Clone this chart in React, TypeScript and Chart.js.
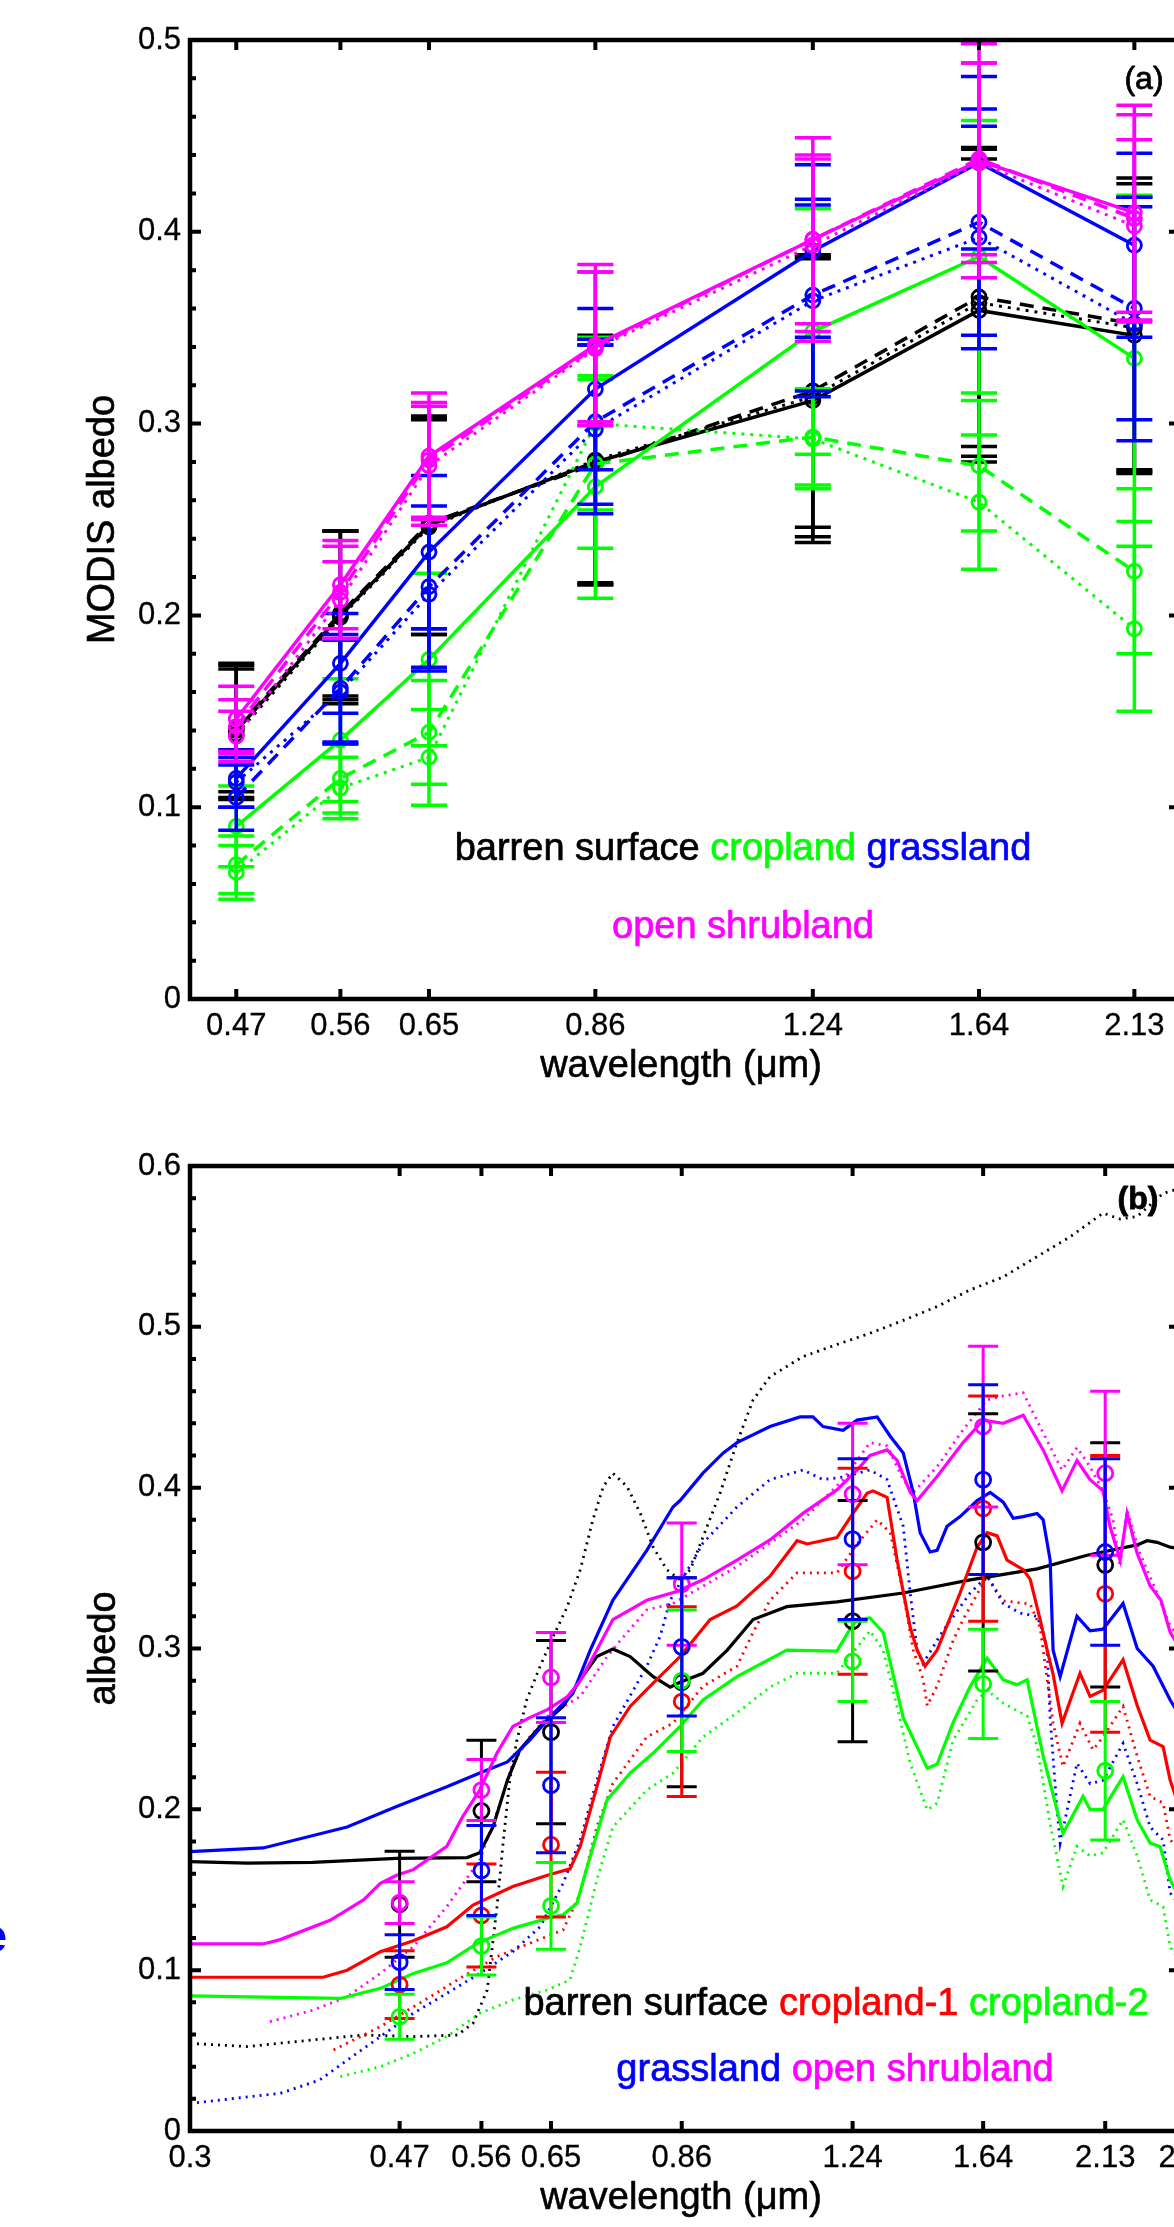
import React, { useEffect, useRef } from 'react';
import { Chart, registerables } from 'chart.js';

Chart.register(...registerables);

const FONT = '"Liberation Sans", Arial, Helvetica, sans-serif';
const C_BLACK = '#000000';
const C_RED = '#ff0000';
const C_GREEN = '#00ff00';
const C_BLUE = '#0000ff';
const C_MAGENTA = '#ff00ff';

// ---------------- MODIS bands ----------------
const BANDS = [0.47, 0.56, 0.65, 0.86, 1.24, 1.64, 2.13];
const BAND_LABELS = ['0.47', '0.56', '0.65', '0.86', '1.24', '1.64', '2.13'];

// ---------------- panel (a) axes ----------------
const A_X_MIN = 0.4348;
const A_X_MAX = 2.3;
const A_Y_TICKS = [0, 0.1, 0.2, 0.3, 0.4, 0.5];
const A_Y_LABELS = ['0', '0.1', '0.2', '0.3', '0.4', '0.5'];

// ---------------- panel (a) series (MODIS albedo +- error) ----------------
const A_BARREN_SOLID = [0.14, 0.2, 0.247, 0.28, 0.312, 0.359, 0.346];
const A_BARREN_SOLID_ERR = [0.035, 0.044, 0.057, 0.064, 0.074, 0.079, 0.072];
const A_BARREN_DASHED = [0.141, 0.201, 0.248, 0.279, 0.317, 0.366, 0.352];
const A_BARREN_DASHED_ERR = [0.033, 0.043, 0.055, 0.062, 0.071, 0.078, 0.076];
const A_BARREN_DOTTED = [0.138, 0.199, 0.246, 0.281, 0.314, 0.363, 0.35];
const A_BARREN_DOTTED_ERR = [0.034, 0.045, 0.056, 0.065, 0.073, 0.08, 0.075];

const A_CROP_SOLID = [0.09, 0.135, 0.177, 0.267, 0.348, 0.387, 0.334];
const A_CROP_SOLID_ERR = [0.021, 0.032, 0.045, 0.058, 0.064, 0.071, 0.085];
const A_CROP_DASHED = [0.07, 0.115, 0.139, 0.279, 0.293, 0.278, 0.223];
const A_CROP_DASHED_ERR = [0.015, 0.018, 0.027, 0.044, 0.025, 0.034, 0.043];
const A_CROP_DOTTED = [0.066, 0.11, 0.126, 0.3, 0.292, 0.259, 0.193];
const A_CROP_DOTTED_ERR = [0.014, 0.016, 0.025, 0.045, 0.026, 0.035, 0.043];

const A_GRASS_SOLID = [0.115, 0.175, 0.233, 0.318, 0.39, 0.436, 0.393];
const A_GRASS_SOLID_ERR = [0.015, 0.026, 0.04, 0.042, 0.045, 0.045, 0.048];
const A_GRASS_DASHED = [0.105, 0.162, 0.215, 0.301, 0.367, 0.405, 0.36];
const A_GRASS_DASHED_ERR = [0.017, 0.028, 0.042, 0.043, 0.05, 0.059, 0.058];
const A_GRASS_DOTTED = [0.113, 0.16, 0.211, 0.297, 0.364, 0.397, 0.352];
const A_GRASS_DOTTED_ERR = [0.013, 0.027, 0.04, 0.044, 0.05, 0.058, 0.061];

const A_SHRUB_SOLID = [0.146, 0.216, 0.283, 0.341, 0.396, 0.437, 0.41];
const A_SHRUB_SOLID_ERR = [0.017, 0.023, 0.033, 0.042, 0.053, 0.061, 0.056];
const A_SHRUB_DASHED = [0.142, 0.212, 0.281, 0.34, 0.396, 0.438, 0.407];
const A_SHRUB_DASHED_ERR = [0.014, 0.024, 0.03, 0.039, 0.044, 0.05, 0.054];
const A_SHRUB_DOTTED = [0.137, 0.208, 0.278, 0.339, 0.393, 0.436, 0.403];
const A_SHRUB_DOTTED_ERR = [0.013, 0.02, 0.031, 0.04, 0.045, 0.052, 0.045];

// ---------------- panel (b) axes ----------------
const B_X_MIN = 0.3;
const B_X_MAX = 2.5;
const B_X_TICKS = [0.3, 0.47, 0.56, 0.65, 0.86, 1.24, 1.64, 2.13, 2.5];
const B_X_LABELS = ['0.3', '0.47', '0.56', '0.65', '0.86', '1.24', '1.64', '2.13', '2.5'];
const B_Y_TICKS = [0, 0.1, 0.2, 0.3, 0.4, 0.5, 0.6];
const B_Y_LABELS = ['0', '0.1', '0.2', '0.3', '0.4', '0.5', '0.6'];

// ---------------- panel (b) spectra [wavelength um, albedo] ----------------
const B_BARREN_SOLID = [
  [0.3, 0.1675], [0.339, 0.1665], [0.39, 0.167], [0.467, 0.1695], [0.543, 0.17], [0.558, 0.173],
  [0.574, 0.189], [0.592, 0.218], [0.608, 0.237], [0.635, 0.2515], [0.667, 0.264], [0.692, 0.2805],
  [0.717, 0.295], [0.742, 0.2997], [0.77, 0.295], [0.809, 0.2825], [0.839, 0.276], [0.857, 0.279],
  [0.9, 0.2846], [0.948, 0.299], [1.002, 0.318], [1.077, 0.326], [1.199, 0.329], [1.382, 0.3345],
  [1.595, 0.3427], [1.841, 0.3495], [2.049, 0.358], [2.281, 0.3644], [2.33, 0.367], [2.38, 0.366],
  [2.448, 0.363], [2.5, 0.362],
];
const B_BARREN_DOTTED = [
  [0.3, 0.0545], [0.339, 0.0525], [0.39, 0.0566], [0.435, 0.0597], [0.484, 0.0587], [0.532, 0.0597],
  [0.55, 0.067], [0.567, 0.0877], [0.579, 0.1395], [0.587, 0.181], [0.595, 0.218], [0.604, 0.2425],
  [0.617, 0.268], [0.635, 0.289], [0.653, 0.3074], [0.673, 0.326], [0.692, 0.349], [0.711, 0.38],
  [0.727, 0.4007], [0.742, 0.409], [0.765, 0.4007], [0.787, 0.384], [0.809, 0.363], [0.833, 0.349],
  [0.857, 0.3427], [0.876, 0.349], [0.934, 0.397], [0.968, 0.428], [1.002, 0.4546], [1.039, 0.469],
  [1.115, 0.4815], [1.199, 0.489], [1.287, 0.496], [1.382, 0.504], [1.486, 0.5126], [1.595, 0.523],
  [1.712, 0.531], [1.841, 0.5437], [1.976, 0.556], [2.12, 0.5707], [2.199, 0.567], [2.281, 0.5686],
  [2.411, 0.583], [2.5, 0.586],
];
const B_CROP1_SOLID = [
  [0.3, 0.0956], [0.399, 0.0956], [0.42, 0.1], [0.451, 0.1115], [0.484, 0.1183], [0.52, 0.127],
  [0.55, 0.1405], [0.599, 0.152], [0.645, 0.159], [0.677, 0.163], [0.692, 0.177], [0.717, 0.214],
  [0.738, 0.245], [0.77, 0.264], [0.809, 0.2785], [0.857, 0.295], [0.914, 0.318], [0.968, 0.3265],
  [1.039, 0.345], [1.101, 0.367], [1.125, 0.365], [1.199, 0.369], [1.241, 0.384], [1.279, 0.3965],
  [1.295, 0.398], [1.335, 0.394], [1.364, 0.355], [1.403, 0.313], [1.424, 0.299], [1.448, 0.289],
  [1.486, 0.299], [1.561, 0.3345], [1.619, 0.363], [1.654, 0.372], [1.69, 0.37], [1.726, 0.355],
  [1.787, 0.349], [1.814, 0.343], [1.853, 0.318], [1.881, 0.299], [1.905, 0.284], [1.942, 0.2535],
  [2.018, 0.2846], [2.062, 0.2702], [2.12, 0.274], [2.213, 0.293], [2.281, 0.2645], [2.345, 0.243],
  [2.411, 0.239], [2.448, 0.218], [2.5, 0.2],
];
const B_CROP1_DOTTED = [
  [0.408, 0.0504], [0.451, 0.0649], [0.502, 0.0835], [0.538, 0.096], [0.579, 0.1084], [0.621, 0.1167],
  [0.667, 0.125], [0.692, 0.148], [0.717, 0.189], [0.742, 0.216], [0.798, 0.245], [0.844, 0.2535],
  [0.9, 0.2765], [0.968, 0.289], [1.002, 0.31], [1.039, 0.33], [1.101, 0.347], [1.199, 0.347],
  [1.252, 0.365], [1.307, 0.38], [1.344, 0.372], [1.382, 0.3345], [1.412, 0.299], [1.442, 0.281],
  [1.455, 0.2645], [1.486, 0.2766], [1.538, 0.305], [1.571, 0.318], [1.654, 0.345], [1.712, 0.3297],
  [1.814, 0.3276], [1.853, 0.313], [1.865, 0.299], [1.905, 0.2535], [1.946, 0.2266], [2.018, 0.2535],
  [2.075, 0.237], [2.12, 0.245], [2.213, 0.264], [2.281, 0.233], [2.345, 0.208], [2.411, 0.204],
  [2.448, 0.181], [2.5, 0.175],
];
const B_CROP2_SOLID = [
  [0.3, 0.084], [0.414, 0.0824], [0.451, 0.0887], [0.484, 0.098], [0.52, 0.1046], [0.555, 0.1167],
  [0.599, 0.126], [0.645, 0.1323], [0.667, 0.1344], [0.687, 0.1416], [0.707, 0.171], [0.733, 0.206],
  [0.77, 0.2225], [0.809, 0.235], [0.857, 0.2515], [0.9, 0.268], [0.968, 0.2825], [1.077, 0.299],
  [1.199, 0.2984], [1.233, 0.312], [1.252, 0.318], [1.287, 0.319], [1.324, 0.31], [1.382, 0.257],
  [1.455, 0.2255], [1.486, 0.228], [1.538, 0.254], [1.595, 0.2763], [1.654, 0.294], [1.712, 0.2805],
  [1.764, 0.2775], [1.802, 0.2805], [1.865, 0.233], [1.946, 0.185], [2.031, 0.208], [2.062, 0.2],
  [2.12, 0.2], [2.213, 0.2203], [2.281, 0.1934], [2.345, 0.179], [2.396, 0.1767], [2.448, 0.156],
  [2.5, 0.145],
];
const B_CROP2_DOTTED = [
  [0.414, 0.0338], [0.451, 0.04], [0.484, 0.0483], [0.52, 0.0587], [0.558, 0.0732], [0.599, 0.0815],
  [0.645, 0.0877], [0.677, 0.094], [0.692, 0.1146], [0.717, 0.156], [0.742, 0.189], [0.798, 0.212],
  [0.844, 0.2225], [0.9, 0.245], [0.968, 0.26], [1.039, 0.276], [1.101, 0.2846], [1.199, 0.2846],
  [1.287, 0.311], [1.324, 0.299], [1.364, 0.2636], [1.403, 0.2286], [1.455, 0.1996], [1.486, 0.2038],
  [1.538, 0.243], [1.619, 0.268], [1.654, 0.274], [1.712, 0.266], [1.802, 0.258], [1.841, 0.2391],
  [1.893, 0.191], [1.946, 0.152], [2.005, 0.177], [2.062, 0.171], [2.12, 0.173], [2.213, 0.1935],
  [2.281, 0.171], [2.345, 0.1437], [2.411, 0.1395], [2.448, 0.1146], [2.5, 0.105],
];
const B_GRASS_SOLID = [
  [0.3, 0.1737], [0.351, 0.176], [0.42, 0.189], [0.467, 0.2017], [0.52, 0.214], [0.558, 0.2226],
  [0.592, 0.2295], [0.621, 0.243], [0.645, 0.2556], [0.681, 0.272], [0.707, 0.299], [0.742, 0.33],
  [0.798, 0.361], [0.844, 0.388], [0.857, 0.392], [0.9, 0.409], [0.94, 0.4216], [0.968, 0.428],
  [1.039, 0.438], [1.108, 0.444], [1.139, 0.444], [1.164, 0.438], [1.215, 0.4357], [1.252, 0.442],
  [1.307, 0.444], [1.344, 0.432], [1.382, 0.4216], [1.412, 0.397], [1.433, 0.372], [1.464, 0.36],
  [1.486, 0.361], [1.518, 0.376], [1.561, 0.382], [1.619, 0.392], [1.665, 0.397], [1.712, 0.391],
  [1.749, 0.381], [1.787, 0.382], [1.841, 0.384], [1.865, 0.38], [1.893, 0.355], [1.905, 0.299],
  [1.934, 0.2825], [1.976, 0.305], [2.005, 0.32], [2.062, 0.311], [2.12, 0.312], [2.213, 0.328],
  [2.281, 0.3], [2.36, 0.289], [2.448, 0.268], [2.5, 0.258],
];
const B_GRASS_DOTTED = [
  [0.3, 0.0172], [0.364, 0.0234], [0.396, 0.0317], [0.42, 0.044], [0.451, 0.0587], [0.484, 0.0732],
  [0.52, 0.0856], [0.558, 0.098], [0.599, 0.1115], [0.635, 0.127], [0.667, 0.154], [0.692, 0.181],
  [0.717, 0.218], [0.742, 0.2515], [0.798, 0.289], [0.821, 0.3074], [0.839, 0.33], [0.9, 0.3655],
  [0.968, 0.388], [1.039, 0.405], [1.115, 0.411], [1.164, 0.405], [1.215, 0.4066], [1.287, 0.411],
  [1.335, 0.405], [1.382, 0.376], [1.403, 0.334], [1.424, 0.299], [1.442, 0.2907], [1.486, 0.305],
  [1.505, 0.311], [1.595, 0.3345], [1.654, 0.345], [1.712, 0.328], [1.775, 0.322], [1.841, 0.32],
  [1.865, 0.31], [1.881, 0.299], [1.893, 0.257], [1.921, 0.2], [1.934, 0.179], [2.005, 0.2287],
  [2.062, 0.216], [2.12, 0.218], [2.213, 0.241], [2.281, 0.216], [2.345, 0.189], [2.411, 0.181],
  [2.448, 0.148], [2.5, 0.14],
];
const B_SHRUB_SOLID = [
  [0.3, 0.1163], [0.351, 0.1163], [0.364, 0.119], [0.405, 0.131], [0.435, 0.1437], [0.451, 0.154],
  [0.467, 0.159], [0.484, 0.1625], [0.52, 0.177], [0.538, 0.1955], [0.558, 0.212], [0.579, 0.235],
  [0.599, 0.2515], [0.621, 0.257], [0.645, 0.262], [0.673, 0.27], [0.692, 0.28], [0.717, 0.299],
  [0.742, 0.318], [0.798, 0.33], [0.851, 0.3354], [0.9, 0.3427], [0.968, 0.355], [1.039, 0.3675],
  [1.115, 0.384], [1.199, 0.3986], [1.252, 0.411], [1.287, 0.42], [1.335, 0.4235], [1.364, 0.417],
  [1.403, 0.397], [1.424, 0.392], [1.486, 0.407], [1.571, 0.428], [1.64, 0.442], [1.712, 0.44],
  [1.787, 0.445], [1.865, 0.4235], [1.942, 0.398], [2.005, 0.417], [2.062, 0.405], [2.12, 0.398],
  [2.152, 0.376], [2.199, 0.355], [2.232, 0.384], [2.281, 0.359], [2.345, 0.339], [2.4, 0.33],
  [2.448, 0.31], [2.5, 0.3],
];
const B_SHRUB_DOTTED = [
  [0.356, 0.068], [0.39, 0.075], [0.42, 0.0835], [0.451, 0.098], [0.484, 0.1146], [0.52, 0.1395],
  [0.558, 0.1685], [0.583, 0.204], [0.599, 0.2286], [0.621, 0.245], [0.645, 0.2578], [0.692, 0.2702],
  [0.733, 0.295], [0.754, 0.305], [0.798, 0.324], [0.844, 0.328], [0.968, 0.351], [1.115, 0.38],
  [1.215, 0.405], [1.287, 0.428], [1.335, 0.426], [1.382, 0.405], [1.412, 0.397], [1.486, 0.413],
  [1.571, 0.436], [1.654, 0.4546], [1.712, 0.457], [1.787, 0.459], [1.865, 0.434], [1.942, 0.411],
  [2.005, 0.425], [2.062, 0.413], [2.12, 0.398], [2.166, 0.38], [2.199, 0.351], [2.232, 0.386],
  [2.295, 0.359], [2.38, 0.3345], [2.448, 0.314], [2.5, 0.305],
];

// ---------------- panel (b) MODIS points +- error ----------------
const B_PT_BARREN = [0.141, 0.199, 0.248, 0.279, 0.317, 0.366, 0.352];
const B_PT_BARREN_ERR = [0.033, 0.044, 0.057, 0.065, 0.075, 0.08, 0.076];
const B_PT_CROP1 = [0.091, 0.134, 0.178, 0.267, 0.348, 0.387, 0.334];
const B_PT_CROP1_ERR = [0.021, 0.032, 0.045, 0.059, 0.064, 0.07, 0.086];
const B_PT_CROP2 = [0.071, 0.115, 0.14, 0.28, 0.292, 0.278, 0.224];
const B_PT_CROP2_ERR = [0.014, 0.018, 0.027, 0.044, 0.025, 0.034, 0.043];
const B_PT_SHRUB = [0.142, 0.212, 0.282, 0.34, 0.396, 0.438, 0.409];
const B_PT_SHRUB_ERR = [0.013, 0.019, 0.028, 0.038, 0.044, 0.05, 0.051];
const B_PT_GRASS = [0.105, 0.162, 0.215, 0.301, 0.368, 0.405, 0.36];
const B_PT_GRASS_ERR = [0.017, 0.028, 0.042, 0.043, 0.05, 0.059, 0.058];

// ---------------- helpers ----------------
function heavyText(ctx: any, text: string, x: number, y: number, weight: number) {
  ctx.fillText(text, x, y);
  if (weight > 0) {
    ctx.lineWidth = weight;
    ctx.strokeStyle = ctx.fillStyle;
    ctx.lineJoin = 'round';
    ctx.strokeText(text, x, y);
  }
}

function makeAxesPlugin(cfg: any) {
  return {
    id: 'matlabAxes',
    afterDraw(chart: any) {
      const ctx = chart.ctx;
      const a = chart.chartArea;
      const xs = chart.scales.x;
      const ys = chart.scales.y;
      ctx.save();
      ctx.setLineDash([]);
      ctx.strokeStyle = '#000';
      ctx.fillStyle = '#000';
      ctx.lineCap = 'butt';
      ctx.lineWidth = 4;
      ctx.beginPath();
      for (const v of cfg.xTicks) {
        const px = xs.getPixelForValue(v);
        ctx.moveTo(px, a.bottom);
        ctx.lineTo(px, a.bottom - 10);
        ctx.moveTo(px, a.top);
        ctx.lineTo(px, a.top + 10);
      }
      for (const v of cfg.yTicks) {
        const py = ys.getPixelForValue(v);
        ctx.moveTo(a.left, py);
        ctx.lineTo(a.left + 11, py);
        ctx.moveTo(a.right, py);
        ctx.lineTo(a.right - 11, py);
      }
      const yMax = cfg.yTicks[cfg.yTicks.length - 1];
      const n = Math.round(yMax / cfg.minorStep);
      for (let k = 1; k < n; k++) {
        const py = ys.getPixelForValue(k * cfg.minorStep);
        ctx.moveTo(a.left, py);
        ctx.lineTo(a.left + 6, py);
        ctx.moveTo(a.right, py);
        ctx.lineTo(a.right - 6, py);
      }
      ctx.stroke();
      ctx.lineWidth = 4.5;
      ctx.strokeRect(a.left, a.top, a.right - a.left, a.bottom - a.top);

      ctx.font = `${cfg.tickSize}px ${FONT}`;
      ctx.textBaseline = 'middle';
      ctx.textAlign = 'right';
      cfg.yTicks.forEach((v: number, i: number) => heavyText(ctx, cfg.yLabels[i], a.left - 9, ys.getPixelForValue(v), 0.3));
      ctx.textAlign = 'center';
      cfg.xTicks.forEach((v: number, i: number) => heavyText(ctx, cfg.xLabels[i], xs.getPixelForValue(v), a.bottom + 27, 0.3));

      ctx.font = `${cfg.titleSize}px ${FONT}`;
      ctx.textBaseline = 'alphabetic';
      ctx.textAlign = 'center';
      heavyText(ctx, cfg.xTitle, (a.left + a.right) / 2 - 4, a.bottom + 78, 0.6);
      ctx.save();
      ctx.translate(cfg.yTitleX, (a.top + a.bottom) / 2);
      ctx.rotate(-Math.PI / 2);
      heavyText(ctx, cfg.yTitle, 0, 0, 0.6);
      ctx.restore();

      ctx.font = `${cfg.noteSize}px ${FONT}`;
      ctx.textAlign = 'left';
      for (const line of cfg.notes) {
        const space = ctx.measureText(' ').width;
        const widths = line.parts.map((p: any) => ctx.measureText(p[0]).width);
        const total = widths.reduce((s: number, w: number) => s + w, 0) + space * (line.parts.length - 1);
        let x = line.cx - total / 2;
        line.parts.forEach((p: any, i: number) => {
          ctx.fillStyle = p[1];
          heavyText(ctx, p[0], x, line.y, 0.7);
          x += widths[i] + space;
        });
      }

      ctx.fillStyle = '#000';
      ctx.font = `${cfg.panel[3]} ${cfg.panelSize}px ${FONT}`;
      ctx.textAlign = 'center';
      ctx.textBaseline = 'middle';
      heavyText(ctx, cfg.panel[0], cfg.panel[1], cfg.panel[2], 0.8);

      if (cfg.extra) {
        for (const e of cfg.extra) {
          ctx.fillStyle = e.color;
          ctx.font = e.font;
          ctx.textAlign = 'right';
          ctx.textBaseline = 'alphabetic';
          ctx.fillText(e.text, e.x, e.y);
        }
      }
      ctx.restore();
    },
  };
}

function makeErrorBarPlugin(cap: number, width: number) {
  return {
    id: 'errorBars',
    afterDatasetDraw(chart: any, args: any) {
      const ds = chart.data.datasets[args.index];
      if (!ds.errors) return;
      const ctx = chart.ctx;
      const xs = chart.scales.x;
      const ys = chart.scales.y;
      ctx.save();
      ctx.setLineDash([]);
      ctx.strokeStyle = ds.borderColor;
      ctx.lineWidth = width;
      ctx.lineCap = 'butt';
      ds.data.forEach((p: any, j: number) => {
        const e = ds.errors[j];
        const px = xs.getPixelForValue(p.x);
        const top = ys.getPixelForValue(p.y + e);
        const bot = ys.getPixelForValue(p.y - e);
        ctx.beginPath();
        ctx.moveTo(px, top);
        ctx.lineTo(px, bot);
        ctx.moveTo(px - cap, top);
        ctx.lineTo(px + cap, top);
        ctx.moveTo(px - cap, bot);
        ctx.lineTo(px + cap, bot);
        ctx.stroke();
      });
      ctx.restore();
    },
  };
}

function dashFor(style: string, panel: string) {
  if (style === 'dashed') return [14, 9];
  if (style === 'dotted') return panel === 'a' ? [3, 6] : [2, 5];
  return [];
}

function buildA() {
  const defs: any[] = [
    [C_BLACK, 'solid', A_BARREN_SOLID, A_BARREN_SOLID_ERR],
    [C_BLACK, 'dashed', A_BARREN_DASHED, A_BARREN_DASHED_ERR],
    [C_BLACK, 'dotted', A_BARREN_DOTTED, A_BARREN_DOTTED_ERR],
    [C_GREEN, 'solid', A_CROP_SOLID, A_CROP_SOLID_ERR],
    [C_GREEN, 'dashed', A_CROP_DASHED, A_CROP_DASHED_ERR],
    [C_GREEN, 'dotted', A_CROP_DOTTED, A_CROP_DOTTED_ERR],
    [C_BLUE, 'solid', A_GRASS_SOLID, A_GRASS_SOLID_ERR],
    [C_BLUE, 'dashed', A_GRASS_DASHED, A_GRASS_DASHED_ERR],
    [C_BLUE, 'dotted', A_GRASS_DOTTED, A_GRASS_DOTTED_ERR],
    [C_MAGENTA, 'solid', A_SHRUB_SOLID, A_SHRUB_SOLID_ERR],
    [C_MAGENTA, 'dashed', A_SHRUB_DASHED, A_SHRUB_DASHED_ERR],
    [C_MAGENTA, 'dotted', A_SHRUB_DOTTED, A_SHRUB_DOTTED_ERR],
  ];
  const N = defs.length;
  const datasets = defs.map((d, i) => ({
    data: BANDS.map((x, j) => ({ x, y: d[2][j] })),
    errors: d[3],
    borderColor: d[0],
    borderWidth: d[1] === 'dotted' ? 3 : 3.5,
    borderDash: dashFor(d[1], 'a'),
    pointRadius: 7,
    pointBorderWidth: 2.8,
    pointBackgroundColor: 'rgba(0,0,0,0)',
    pointBorderColor: d[0],
    pointStyle: 'circle',
    tension: 0,
    order: N - i,
  }));
  const axesCfg = {
    xTicks: BANDS, xLabels: BAND_LABELS, yTicks: A_Y_TICKS, yLabels: A_Y_LABELS, minorStep: 0.02,
    tickSize: 31, titleSize: 38, noteSize: 38, panelSize: 32,
    xTitle: 'wavelength (\u03bcm)', yTitle: 'MODIS albedo', yTitleX: 114,
    notes: [
      { cx: 743, y: 860, parts: [['barren surface', C_BLACK], ['cropland', C_GREEN], ['grassland', C_BLUE]] },
      { cx: 743, y: 938, parts: [['open shrubland', C_MAGENTA]] },
    ],
    panel: ['(a)', 1144, 80, 'normal'],
  };
  return {
    type: 'line',
    data: { datasets },
    options: {
      responsive: false, animation: false, devicePixelRatio: 1, events: [],
      layout: { padding: { left: 190, right: 20, top: 40, bottom: 101 } },
      plugins: { legend: { display: false }, tooltip: { enabled: false } },
      scales: {
        x: { type: 'logarithmic', min: A_X_MIN, max: A_X_MAX, display: false },
        y: { type: 'linear', min: 0, max: 0.5, display: false },
      },
    },
    plugins: [makeErrorBarPlugin(18, 3.5), makeAxesPlugin(axesCfg)],
  };
}

function buildB() {
  const curves: any[] = [
    [C_BLACK, 'dotted', B_BARREN_DOTTED],
    [C_RED, 'dotted', B_CROP1_DOTTED],
    [C_GREEN, 'dotted', B_CROP2_DOTTED],
    [C_BLUE, 'dotted', B_GRASS_DOTTED],
    [C_MAGENTA, 'dotted', B_SHRUB_DOTTED],
    [C_BLACK, 'solid', B_BARREN_SOLID],
    [C_RED, 'solid', B_CROP1_SOLID],
    [C_GREEN, 'solid', B_CROP2_SOLID],
    [C_BLUE, 'solid', B_GRASS_SOLID],
    [C_MAGENTA, 'solid', B_SHRUB_SOLID],
  ];
  const points: any[] = [
    [C_BLACK, B_PT_BARREN, B_PT_BARREN_ERR],
    [C_RED, B_PT_CROP1, B_PT_CROP1_ERR],
    [C_GREEN, B_PT_CROP2, B_PT_CROP2_ERR],
    [C_MAGENTA, B_PT_SHRUB, B_PT_SHRUB_ERR],
    [C_BLUE, B_PT_GRASS, B_PT_GRASS_ERR],
  ];
  const N = curves.length + points.length;
  const datasets: any[] = [];
  curves.forEach((c) => {
    const i = datasets.length;
    datasets.push({
      data: c[2].map((p: number[]) => ({ x: p[0], y: p[1] })),
      borderColor: c[0],
      borderWidth: c[1] === 'dotted' ? 2.8 : 3.2,
      borderDash: dashFor(c[1], 'b'),
      pointRadius: 0,
      tension: 0,
      order: N - i,
    });
  });
  points.forEach((p) => {
    const i = datasets.length;
    datasets.push({
      data: BANDS.map((x, j) => ({ x, y: p[1][j] })),
      errors: p[2],
      showLine: false,
      borderColor: p[0],
      pointRadius: 7.5,
      pointBorderWidth: 2.8,
      pointBackgroundColor: 'rgba(0,0,0,0)',
      pointBorderColor: p[0],
      pointStyle: 'circle',
      order: N - i,
    });
  });
  const axesCfg = {
    xTicks: B_X_TICKS, xLabels: B_X_LABELS, yTicks: B_Y_TICKS, yLabels: B_Y_LABELS, minorStep: 0.02,
    tickSize: 31, titleSize: 38, noteSize: 38, panelSize: 32,
    xTitle: 'wavelength (\u03bcm)', yTitle: 'albedo', yTitleX: 115,
    notes: [
      { cx: 836, y: 915, parts: [['barren surface', C_BLACK], ['cropland-1', C_RED], ['cropland-2', C_GREEN]] },
      { cx: 835, y: 981, parts: [['grassland', C_BLUE], ['open shrubland', C_MAGENTA]] },
    ],
    panel: ['(b)', 1138, 100, 'bold'],
    extra: [{ text: 'e', color: C_BLUE, font: `bold 46px ${FONT}`, x: 7, y: 852 }],
  };
  return {
    type: 'line',
    data: { datasets },
    options: {
      responsive: false, animation: false, devicePixelRatio: 1, events: [],
      layout: { padding: { left: 190, right: 20, top: 66, bottom: 96 } },
      plugins: { legend: { display: false }, tooltip: { enabled: false } },
      scales: {
        x: { type: 'logarithmic', min: B_X_MIN, max: B_X_MAX, display: false },
        y: { type: 'linear', min: 0, max: 0.6, display: false },
      },
    },
    plugins: [makeErrorBarPlugin(15, 3), makeAxesPlugin(axesCfg)],
  };
}

export default function App() {
  const refA = useRef<HTMLCanvasElement>(null);
  const refB = useRef<HTMLCanvasElement>(null);
  useEffect(() => {
    const ca = new Chart(refA.current as HTMLCanvasElement, buildA() as any);
    const cb = new Chart(refB.current as HTMLCanvasElement, buildB() as any);
    return () => {
      ca.destroy();
      cb.destroy();
    };
  }, []);
  return (
    <div style={{ position: 'absolute', left: 0, top: 0, width: 1174, height: 2227, overflow: 'hidden', background: '#ffffff' }}>
      <canvas ref={refA} width={1200} height={1100} style={{ position: 'absolute', left: 0, top: 0 }} />
      <canvas ref={refB} width={1200} height={1127} style={{ position: 'absolute', left: 0, top: 1100 }} />
    </div>
  );
}
